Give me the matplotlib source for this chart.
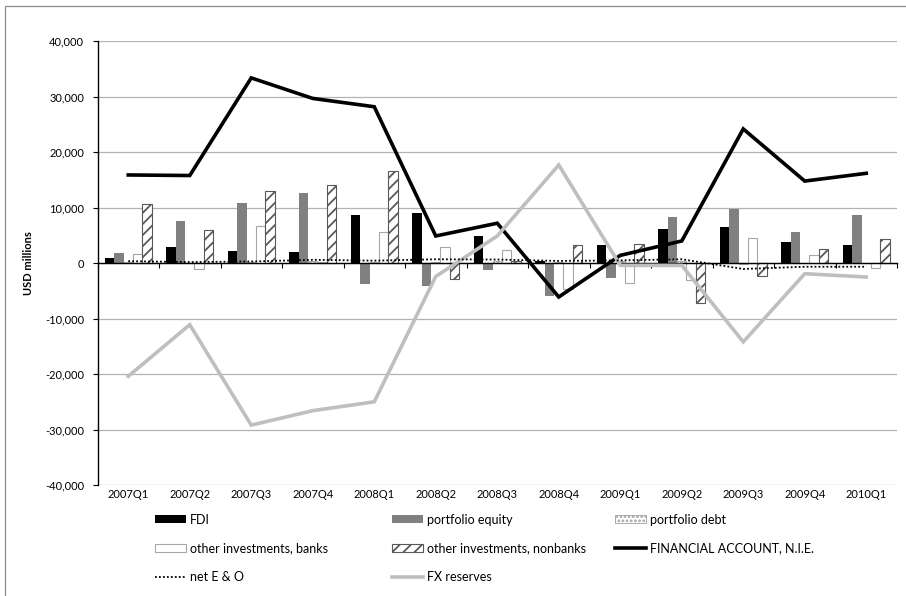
import numpy as np
import matplotlib
matplotlib.use("Agg")
import matplotlib.pyplot as plt
from matplotlib.patches import Patch, Rectangle
from matplotlib.lines import Line2D
from matplotlib.ticker import FuncFormatter

plt.rcParams['font.family'] = ['Lato', 'DejaVu Sans']
plt.rcParams['hatch.linewidth'] = 1.3

categories = ["2007Q1", "2007Q2", "2007Q3", "2007Q4", "2008Q1", "2008Q2", "2008Q3",
              "2008Q4", "2009Q1", "2009Q2", "2009Q3", "2009Q4", "2010Q1"]
fdi = [900, 2900, 2200, 2000, 8600, 9000, 4900, 400, 3200, 6100, 6500, 3900, 3200]
portfolio_equity = [1800, 7600, 10900, 12700, -3700, -4200, -1300, -5900, -2600, 8300, 9700, 5700, 8700]
portfolio_debt = [200, 100, 200, 300, 200, 200, 300, 200, 300, 300, -200, 100, 100]
other_banks = [1600, -1000, 6700, 200, 5700, 2900, 2400, -4600, -3500, -3100, 4600, 1500, -900]
other_nonbanks = [10700, 6000, 13000, 14100, 16700, -2900, 400, 3200, 3400, -7100, -2300, 2500, 4400]
financial_account = [15900, 15800, 33400, 29700, 28200, 4900, 7200, -6100, 1400, 4000, 24200, 14800, 16200]
net_eo = [350, 200, 300, 600, 450, 700, 650, 400, 500, 700, -1050, -650, -650]
fx_reserves = [-20400, -11100, -29200, -26600, -25000, -2400, 4900, 17700, -400, -400, -14200, -1900, -2500]

W, H = 906, 596
fig = plt.figure(figsize=(W / 100, H / 100), dpi=100)
ax = fig.add_axes([97.5 / W, 1 - 485 / H, (897 - 97.5) / W, (485 - 41.3) / H])

x = np.arange(len(categories))
bw = 1 / 6.5
grid_c = '#b3b3b3'

series = [
    (fdi, dict(facecolor='black', edgecolor='black', linewidth=0)),
    (portfolio_equity, dict(facecolor='#808080', edgecolor='#808080', linewidth=0)),
    (portfolio_debt, dict(facecolor='white', edgecolor='#a0a0a0', hatch='....', linewidth=0.6)),
    (other_banks, dict(facecolor='white', edgecolor='#a6a6a6', linewidth=0.8)),
    (other_nonbanks, dict(facecolor='white', edgecolor='#595959', hatch='///', linewidth=0.8)),
]
for i, (vals, kw) in enumerate(series):
    ax.bar(x + (i - 2) * bw, vals, width=bw, zorder=3, **kw)

ax.plot(x, financial_account, color='black', lw=2.6, zorder=5, solid_joinstyle='miter')
ax.plot(x, fx_reserves, color='#bfbfbf', lw=2.6, zorder=5, solid_joinstyle='miter')
ax.plot(x, net_eo, color='black', lw=1.3, ls=(0, (1, 1.2)), zorder=6)

ax.set_ylim(-40000, 40000)
ax.set_xlim(-0.5, len(categories) - 0.5)
ax.set_yticks(np.arange(-40000, 40001, 10000))
ax.yaxis.set_major_formatter(FuncFormatter(lambda v, p: f"{v:,.0f}"))
ax.yaxis.grid(True, color=grid_c, lw=0.9, zorder=0)
ax.set_axisbelow(True)
ax.tick_params(axis='y', direction='out', length=3.6, width=0.8, pad=6, labelsize=8, colors='black')

for s in ['top', 'right']:
    ax.spines[s].set_visible(False)
ax.spines['left'].set_color('black')
ax.spines['left'].set_linewidth(1)
ax.spines['bottom'].set_position(('data', 0))
ax.spines['bottom'].set_color('black')
ax.spines['bottom'].set_linewidth(1)
ax.spines['bottom'].set_zorder(4)
ax.set_xticks(np.arange(-0.5, len(categories), 1))
ax.set_xticklabels([])
ax.tick_params(axis='x', direction='out', length=3.6, width=0.8, colors='black')

sec = ax.secondary_xaxis(0.0)
sec.set_xticks(x)
sec.set_xticklabels(categories)
sec.tick_params(length=0, pad=3, labelsize=8)
sec.spines['bottom'].set_visible(False)

ax.set_ylabel("USD millions", fontsize=8, fontweight='bold', labelpad=8)

# legends
h_fdi = Patch(facecolor='black', edgecolor='black', lw=0)
h_eq = Patch(facecolor='#808080', edgecolor='#808080', lw=0)
h_debt = Patch(facecolor='white', edgecolor='#a0a0a0', hatch='....', lw=0.6)
h_banks = Patch(facecolor='white', edgecolor='#a6a6a6', lw=0.8)
h_nb = Patch(facecolor='white', edgecolor='#595959', hatch='///', lw=0.8)
h_fa = Line2D([], [], color='black', lw=2.6)
h_fx = Line2D([], [], color='#bfbfbf', lw=2.6)
h_neo = Line2D([], [], color='black', lw=1.3, ls=(0, (1, 1.2)))

cols = [
    ([h_fdi, h_banks, h_neo], ["FDI", "other investments, banks", "net E & O"], 155),
    ([h_eq, h_nb, h_fx], ["portfolio equity", "other investments, nonbanks", "FX reserves"], 392),
    ([h_debt, h_fa], ["portfolio debt", "FINANCIAL ACCOUNT, N.I.E."], 615),
]
for hs, ls, xl in cols:
    fig.legend(hs, ls, loc='upper left', bbox_to_anchor=(xl / W, 1 - 513.5 / H),
               frameon=False, fontsize=9, handlelength=2.5, handleheight=0.65,
               handletextpad=0.3, labelspacing=1.34, borderpad=0, borderaxespad=0)

# outer chart border (partially visible)
fig.add_artist(Rectangle((5 / W, -0.1), 1.2, 1.1 - 6 / H, transform=fig.transFigure,
                         fill=False, edgecolor='#8c8c8c', lw=0.9))

fig.savefig("out.png", dpi=100)
